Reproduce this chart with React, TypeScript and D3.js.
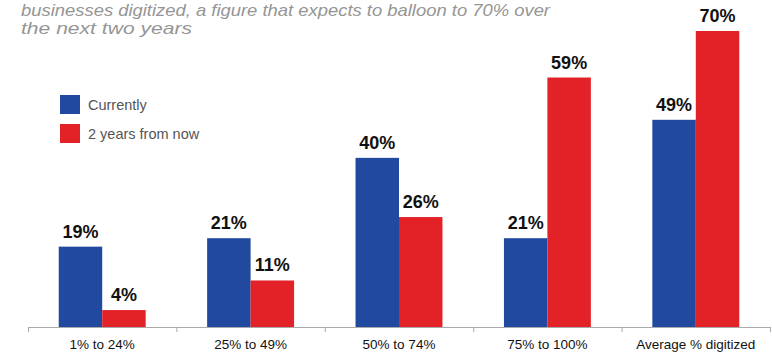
import React from "react";
import * as d3 from "d3";

const categories = ["1% to 24%", "25% to 49%", "50% to 74%", "75% to 100%", "Average % digitized"];
const seriesNames = ["Currently", "2 years from now"];
const currently = [19, 21, 40, 21, 49];
const twoYears = [4, 11, 26, 59, 70];
const colors = ["#2249A0", "#E32227"];
const titleLines = [
  "businesses digitized, a figure that expects to balloon to 70% over",
  "the next two years",
];

const W = 772;
const H = 353;
const FONT = "'Liberation Sans', Arial, Helvetica, sans-serif";

export default function App() {
  const x = d3.scaleBand<string>().domain(categories).range([28, 770]).paddingInner(0).paddingOuter(0);
  const inner = d3.scaleBand<string>().domain(seriesNames).range([0, x.bandwidth()]).paddingInner(0).paddingOuter(0.707);
  const y = d3.scaleLinear().domain([0, 70]).range([327, 31]);
  const values = [currently, twoYears];
  const ticks = categories.map((c) => x(c) as number).concat([x.range()[1]]);

  return (
    <svg width={W} height={H} style={{ position: "absolute", left: 0, top: 0, background: "#fff" }}>
      <text x={21} y={16} fontFamily={FONT} fontStyle="italic" fontSize={17} fill="#959595" textLength={529} lengthAdjust="spacingAndGlyphs">{titleLines[0]}</text>
      <text x={21} y={34} fontFamily={FONT} fontStyle="italic" fontSize={17} fill="#959595" textLength={171} lengthAdjust="spacingAndGlyphs">{titleLines[1]}</text>

      {seriesNames.map((s, i) => (
        <g key={s}>
          <rect x={60} y={95 + i * 29} width={20} height={19} fill={colors[i]} />
          <text x={88} y={110 + i * 29} fontFamily={FONT} fontSize={14.5} fill="#555">{s}</text>
        </g>
      ))}

      {categories.map((c, ci) => (
        <g key={c}>
          {values.map((vals, si) => {
            const bx = (x(c) as number) + (inner(seriesNames[si]) as number);
            const bw = inner.bandwidth();
            const v = vals[ci];
            return (
              <g key={si}>
                <rect x={bx} y={y(v)} width={bw} height={y(0) - y(v)} fill={colors[si]} />
                <text x={bx + bw / 2} y={y(v) - 9} textAnchor="middle" fontFamily={FONT} fontWeight="bold" fontSize={18} fill="#111">{v}%</text>
              </g>
            );
          })}
          <text x={(x(c) as number) + x.bandwidth() / 2} y={349} textAnchor="middle" fontFamily={FONT} fontSize={13.5} fill="#111">{c}</text>
        </g>
      ))}

      <line x1={28} x2={770} y1={y(0) + 0.5} y2={y(0) + 0.5} stroke="#aaa" strokeWidth={1} />
      {ticks.map((t, i) => (
        <line key={i} x1={t + 0.5} x2={t + 0.5} y1={y(0)} y2={y(0) + 5} stroke="#aaa" strokeWidth={1} />
      ))}
    </svg>
  );
}
